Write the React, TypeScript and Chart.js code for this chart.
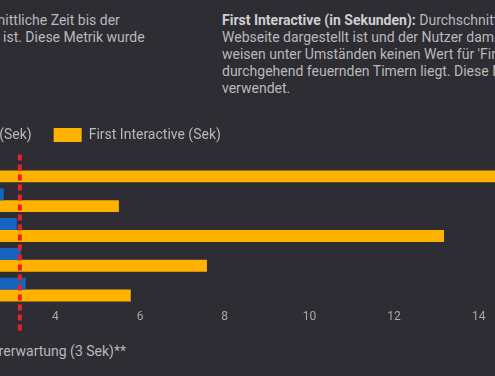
import React, { useEffect, useRef } from 'react';
import { Chart, registerables } from 'chart.js';

Chart.register(...registerables);

// ---- data ----
const categories = ['Startseite', 'Kategorieseite', 'Produktseite', 'Suche', 'Warenkorb'];
const seriesNames = ['First Meaningful Paint (Sek)', 'First Interactive (Sek)'];
const firstMeaningfulPaint = [2.4, 2.78, 3.09, 3.18, 3.3];
const firstInteractive = [15.5, 5.5, 13.18, 7.58, 5.78];
const xMin = 0;
const xMax = 16;
const xStep = 2;
const expectationValue = 3.16;

// ---- style / layout ----
const BG = '#2e2d33';
const BLUE = '#1565c0';
const YELLOW = '#ffb300';
const RED = '#e8202a';
const TEXT = '#b9b9bb';
const TICK = '#a8a8aa';
const FONT = 'Roboto, "Noto Sans", sans-serif';

const ZERO_X = -113.6; // viewport x of value 0
const UNIT_PX = 42.33;
const CANVAS_TOP = 106;
const AREA_BOTTOM = 304;
const CANVAS_H = 232;
const LEGEND_PAD = 22;
const BOX_W = 28;
const LEGEND_FONT = 14;
const ITEM2_X = 54;
const TOP_GAP = 3.5;
const PAD_RIGHT = 24;

function App() {
  const ref = useRef<HTMLCanvasElement | null>(null);

  useEffect(() => {
    const canvas = ref.current;
    if (!canvas) return;
    const mctx = document.createElement('canvas').getContext('2d')!;
    mctx.font = `normal ${LEGEND_FONT}px ${FONT}`;
    const tw1 = mctx.measureText(seriesNames[0]).width;
    const L = ITEM2_X - LEGEND_PAD - (BOX_W + LEGEND_FONT / 2 + tw1) - LEGEND_PAD;
    const yW = ZERO_X - L;
    const areaRight = ZERO_X + (xMax - xMin) * UNIT_PX - L;
    const W = Math.ceil(areaRight + PAD_RIGHT);
    canvas.width = W;
    canvas.height = CANVAS_H;
    canvas.style.left = L + 'px';
    canvas.style.top = CANVAS_TOP + 'px';
    const tickPad = 5.5;
    const axisH = 12 * 1.2 + tickPad + 6;
    const padBottom = CANVAS_H - (AREA_BOTTOM - CANVAS_TOP) - axisH;

    const linePlugin = {
      id: 'expectationLine',
      afterDatasetsDraw(chart: any) {
        const { ctx, chartArea, scales } = chart;
        const x = scales.x.getPixelForValue(expectationValue);
        ctx.save();
        ctx.strokeStyle = RED;
        ctx.lineWidth = 4;
        ctx.setLineDash([6, 4]);
        ctx.beginPath();
        ctx.moveTo(x, chartArea.top - 1);
        ctx.lineTo(x, chartArea.bottom + 29);
        ctx.stroke();
        ctx.restore();
      },
    };

    const chart = new Chart(canvas, {
      type: 'bar',
      data: {
        labels: categories,
        datasets: [
          {
            label: seriesNames[0],
            data: firstMeaningfulPaint,
            backgroundColor: BLUE,
            borderWidth: 0,
            categoryPercentage: 0.8,
            barPercentage: 1.0,
          },
          {
            label: seriesNames[1],
            data: firstInteractive,
            backgroundColor: YELLOW,
            borderWidth: 0,
            categoryPercentage: 0.8,
            barPercentage: 1.0,
          },
        ],
      },
      options: {
        indexAxis: 'y',
        responsive: false,
        animation: false,
        devicePixelRatio: 1,
        layout: {
          padding: { left: 0, right: W - areaRight, top: 0, bottom: padBottom },
        },
        plugins: {
          legend: {
            position: 'top',
            align: 'start',
            labels: {
              boxWidth: BOX_W,
              boxHeight: 14,
              padding: LEGEND_PAD,
              color: TEXT,
              font: { family: FONT, size: LEGEND_FONT },
            },
          },
          tooltip: { enabled: false },
        },
        scales: {
          x: {
            type: 'linear',
            min: xMin,
            max: xMax,
            ticks: {
              stepSize: xStep,
              color: TICK,
              padding: tickPad,
              font: { family: FONT, size: 12 },
            },
            grid: { display: false, drawTicks: false },
            border: { display: false },
          },
          xTop: {
            type: 'linear',
            position: 'top',
            display: true,
            ticks: { display: false },
            grid: { display: false, drawTicks: false },
            border: { display: false },
            afterFit: (s: any) => {
              s.height = TOP_GAP;
            },
          },
          y: {
            type: 'category',
            ticks: { color: TICK, font: { family: FONT, size: 12 } },
            grid: { display: false, drawTicks: false },
            border: { display: false },
            afterFit: (s: any) => {
              s.width = yW;
            },
          },
        },
      },
      plugins: [linePlugin],
    } as any);
    return () => chart.destroy();
  }, []);

  const textStyle: React.CSSProperties = {
    position: 'absolute',
    fontFamily: FONT,
    fontSize: 14,
    lineHeight: '17px',
    color: TEXT,
    whiteSpace: 'nowrap',
  };

  return (
    <div
      style={{
        position: 'fixed',
        left: 0,
        top: 0,
        width: 495,
        height: 376,
        overflow: 'hidden',
        background: BG,
      }}
    >
      <div style={{ ...textStyle, left: 0, top: 12 }}>
        <div style={{ marginLeft: -2.4 }}>nittliche Zeit bis der</div>
        <div style={{ marginLeft: 3 }}>ist. Diese Metrik wurde</div>
      </div>
      <div style={{ ...textStyle, left: 222, top: 12 }}>
        <div>
          <b style={{ color: '#cfcfd1' }}>First Interactive (in Sekunden):</b> Durchschnittliche Zeit, bis die
        </div>
        <div>Webseite dargestellt ist und der Nutzer damit interagieren kann. Einige Seiten</div>
        <div>weisen unter Umständen keinen Wert für 'First Interactive' auf, wenn sie aufgrund von</div>
        <div>durchgehend feuernden Timern liegt. Diese Metrik wurde</div>
        <div>verwendet.</div>
      </div>
      <canvas ref={ref} style={{ position: 'absolute', left: 0, top: CANVAS_TOP }} />
      <div
        style={{
          ...textStyle,
          fontSize: 14,
          right: 495 - 126,
          top: 343,
          textAlign: 'right',
        }}
      >
        **Rote Linie: Nutzererwartung (3 Sek)**
      </div>
    </div>
  );
}

export default App;
